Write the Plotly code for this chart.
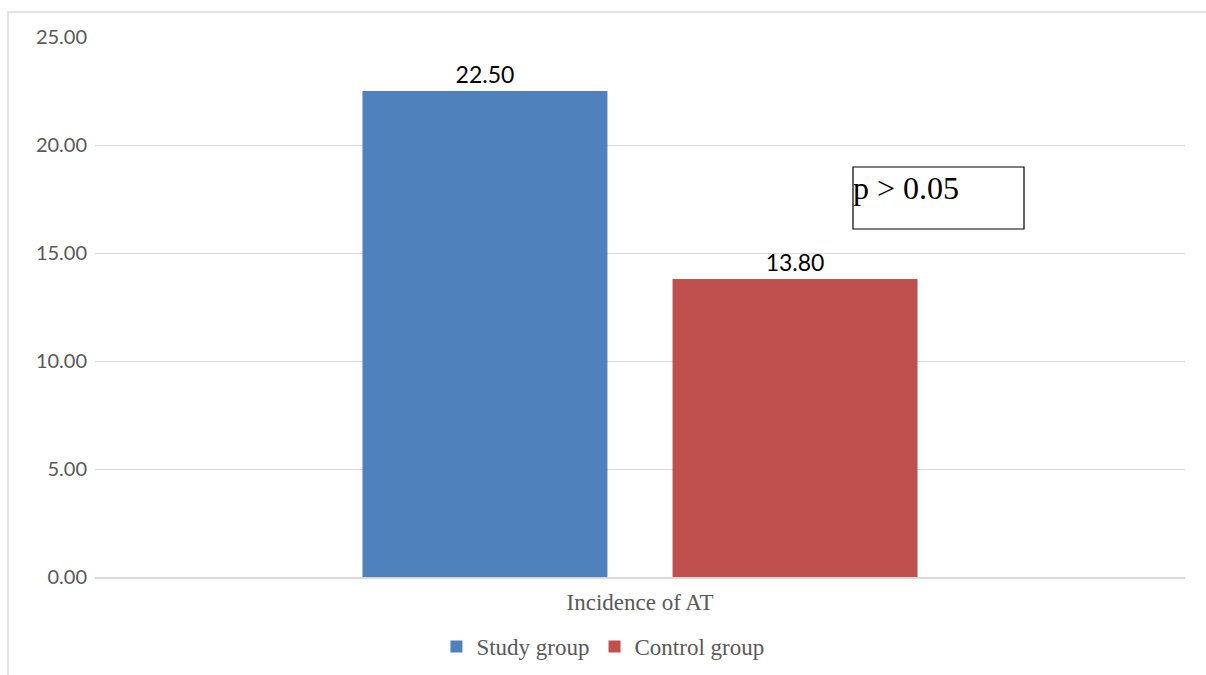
import plotly.graph_objects as go

categories = ["Incidence of AT"]
series_names = ["Study group", "Control group"]
study_values = [22.50]
control_values = [13.80]
y_ticks = [0, 5, 10, 15, 20, 25]
y_tick_labels = ["0.00", "5.00", "10.00", "15.00", "20.00", "25.00"]
p_text = "p > 0.05"

colors = ["#4F81BD", "#C0504D"]

fig = go.Figure()
for name, vals, col in zip(series_names, [study_values, control_values], colors):
    fig.add_trace(go.Bar(
        x=categories, y=vals, name=name, marker=dict(color=col, line=dict(width=0)),
        text=[f"{v:.2f}" for v in vals], textposition="outside",
        textfont=dict(family="Lato", size=23, color="#000000"),
        cliponaxis=False,
    ))

fig.update_layout(
    width=1206, height=675,
    margin=dict(l=95, r=21, t=37, b=98, autoexpand=False),
    paper_bgcolor="white", plot_bgcolor="white",
    barmode="group", bargap=0.431, bargroupgap=0.21,
    showlegend=True,
    legend=dict(orientation="h", x=0.466, xanchor="center",
                yref="container", y=(675 - 625) / 675, yanchor="top",
                font=dict(family="Liberation Serif", size=23, color="#595959"),
                itemwidth=30),
    xaxis=dict(showline=True, linecolor="#D9D9D9", linewidth=1.5, ticks="",
               ticklabelstandoff=4,
               tickfont=dict(family="Liberation Serif", size=23, color="#595959")),
    yaxis=dict(range=[0, 25], tickvals=y_ticks, ticktext=y_tick_labels,
               showgrid=True, gridcolor="#D9D9D9", gridwidth=1.3, zeroline=False,
               showline=False, ticks="", ticklabelstandoff=7,
               tickfont=dict(family="Lato", size=20, color="#595959")),
    shapes=[
        dict(type="rect", xref="paper", yref="paper",
             x0=(853 - 95) / 1090, x1=(1024 - 95) / 1090,
             y0=(577 - 229) / 540, y1=(577 - 167) / 540,
             line=dict(color="#000000", width=1.2), fillcolor="rgba(0,0,0,0)"),
        dict(type="rect", xref="paper", yref="paper",
             x0=(8 - 95) / 1090, x1=1.2,
             y0=-0.3, y1=(577 - 12) / 540,
             line=dict(color="#D9D9D9", width=1.5), fillcolor="rgba(0,0,0,0)"),
    ],
    annotations=[
        dict(text=p_text, xref="paper", yref="paper",
             x=(851 - 95) / 1090, y=(577 - 168) / 540, xanchor="left", yanchor="top",
             showarrow=False, font=dict(family="Liberation Serif", size=32, color="#000000")),
    ],
)

fig.write_html("out.html")
